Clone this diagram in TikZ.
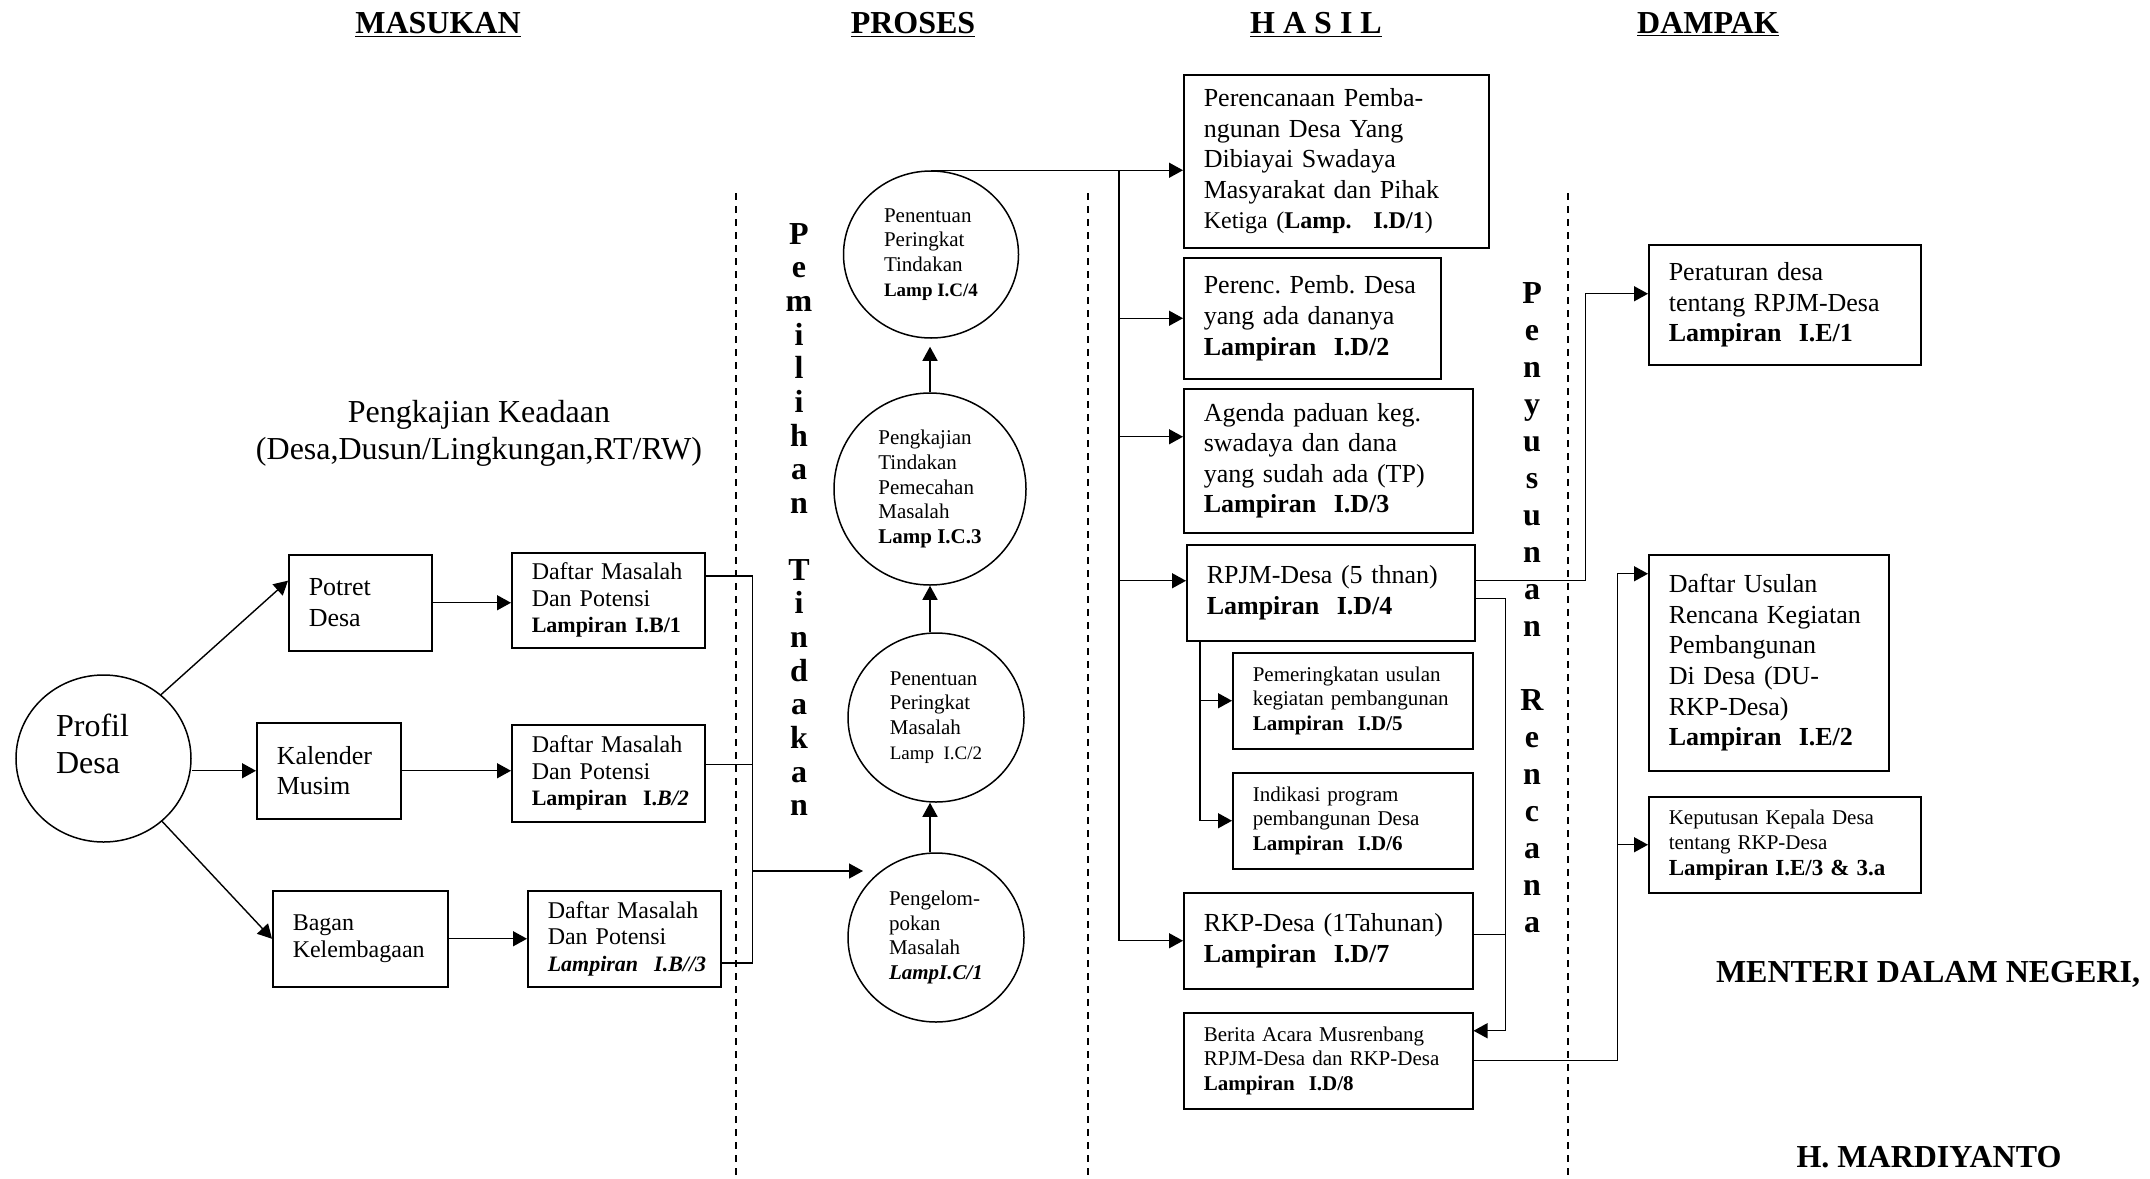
\documentclass[tikz,border=0pt]{standalone}
\usepackage{fontspec}
\setmainfont{Liberation Serif}
\usetikzlibrary{arrows.meta}
\usetikzlibrary{shapes.geometric}
\hyphenpenalty=10000
\exhyphenpenalty=10000

\begin{document}
\begin{tikzpicture}[x=0.5pt,y=-0.5pt]
   \tikzset{kotak/.style={draw, line width=0.75pt, anchor=north west, align=left, inner xsep=10pt, inner ysep=1pt}}
   \tikzset{bulat/.style={draw, ellipse, line width=0.75pt, align=left, inner sep=0pt}}
   \tikzset{panah/.style={-{Triangle[length=7pt,width=7.5pt]}, line width=0.7pt}}
   \tikzset{garis/.style={line width=0.7pt}}
   \tikzset{putus/.style={dash pattern=on 3.5pt off 3pt, line width=0.7pt}}
   \tikzset{judul/.style={font=\fontsize{16}{18}\selectfont\bfseries, anchor=base}}
   \tikzset{huruf/.style={font=\fontsize{16}{18}\selectfont\bfseries, anchor=base, inner sep=0pt}}
   \tikzset{teksbesar/.style={font=\fontsize{13}{15.3}\selectfont}}
   \tikzset{tekssedang/.style={font=\fontsize{12}{13.3}\selectfont}}
   \tikzset{tekskecil/.style={font=\fontsize{10.5}{12.4}\selectfont}}
   \useasboundingbox (0,0) rectangle (2150,1178);

   % judul kolom
   \node[judul] (masukan) at (438,33) {\underline{MASUKAN}};
   \node[judul] (proses) at (913,33) {\underline{PROSES}};
   \node[judul] (hasil) at (1316,33) {\underline{H A S I L}};
   \node[judul] (dampak) at (1708,33) {\underline{DAMPAK}};

   \foreach \x in {736,1088,1568}
      \draw[putus] (\x,193) -- (\x,1178);

   % masukan
   \node[font=\fontsize{16}{18.5}\selectfont, align=center] (keadaan) at (479,433)
      {Pengkajian Keadaan\\(Desa,Dusun/Lingkungan,RT/RW)};
   \node[bulat, minimum width=87.5pt, minimum height=83.5pt, font=\fontsize{16}{18.5}\selectfont, text depth=15pt]
      (profil) at (103.5,758.5) {Profil\hspace*{11pt}\\Desa};
   \node[kotak, teksbesar, minimum width=71.5pt, text width=51.5pt, minimum height=48pt] (potret) at (288,554) {Potret\\Desa};
   \node[kotak, teksbesar, minimum width=72pt, text width=52pt, minimum height=48pt] (kalender) at (256,722) {Kalender\\Musim};
   \node[kotak, tekssedang, minimum width=87.5pt, text width=67.5pt, minimum height=48pt] (bagan) at (272,890) {Bagan\\Kelembagaan};
   \node[kotak, tekssedang, minimum width=96.5pt, text width=76.5pt, minimum height=47.5pt] (daftarA) at (511,552)
      {Daftar~Masalah\\Dan Potensi\\{\fontsize{11}{13}\selectfont\bfseries Lampiran I.B/1}};
   \node[kotak, tekssedang, minimum width=96.5pt, text width=76.5pt, minimum height=48.5pt] (daftarB) at (511,724)
      {Daftar~Masalah\\Dan Potensi\\{\fontsize{11}{13}\selectfont\bfseries Lampiran~ I.\textit{B/2}}};
   \node[kotak, tekssedang, minimum width=96.5pt, text width=76.5pt, minimum height=48pt] (daftarC) at (527,890)
      {Daftar~Masalah\\Dan Potensi\\{\fontsize{11}{13}\selectfont\bfseries\itshape Lampiran~ I.B//3}};

   \draw[panah] (profil.48) -- (potret.163);
   \draw[panah] (kalender.west -| profil.east) -- (kalender.west);
   \draw[panah] (profil.-47) -- (bagan.west);
   \draw[panah] (potret.east) -- (potret.east -| daftarA.west);
   \draw[panah] (kalender.east) -- (kalender.east -| daftarB.west);
   \draw[panah] (bagan.east) -- (bagan.east -| daftarC.west);

   \draw[garis] (daftarA.14) -- ++(47,0) coordinate (busA) |- (daftarC.-14);
   \draw[garis] (daftarB.5) -- (daftarB.5 -| busA);
   \coordinate (ujungA) at (863,871);
   \draw[panah] (busA |- ujungA) -- (ujungA);

   % proses
   \foreach \h [count=\i from 0] in {P,e,m,i,l,i,h,a,n}
      \node[huruf] (pem\i) at (799,244+33.7*\i) {\h};
   \foreach \h [count=\i from 0] in {T,i,n,d,a,k,a,n}
      \node[huruf] (tin\i) at (799,580+33.7*\i) {\h};

   \node[bulat, tekskecil, minimum width=87.5pt, minimum height=83.5pt] (c4) at (931,254.5)
      {Penentuan\\Peringkat\\Tindakan\\{\fontsize{9.5}{11}\selectfont\bfseries Lamp I.C/4}};
   \node[bulat, tekskecil, minimum width=96pt, minimum height=96pt] (c3) at (930,489)
      {Pengkajian\\Tindakan\\Pemecahan\\Masalah\\{\bfseries Lamp I.C.3}};
   \node[bulat, tekskecil, minimum width=88pt, minimum height=84.5pt] (c2) at (936,717.5)
      {Penentuan\\Peringkat\\Masalah\\{\fontsize{9.5}{11}\selectfont Lamp~ I.C/2}};
   \node[bulat, tekskecil, minimum width=88pt, minimum height=84.5pt] (c1) at (936,937.5)
      {Pengelom-\\pokan\\Masalah\\{\bfseries\itshape LampI.C/1}};

   \draw[panah] (c1.north -| c3.south) -- (c2.south -| c3.south);
   \draw[panah] (c2.north -| c3.south) -- (c3.south);
   \draw[panah, shorten >=4pt] (c3.north) -- (c4.south -| c3.north);

   % hasil
   \node[kotak, teksbesar, minimum width=152.5pt, text width=132.5pt, minimum height=86.5pt] (h1) at (1183,74)
      {Perencanaan Pemba-\\ngunan Desa Yang\\Dibiayai Swadaya\\Masyarakat dan Pihak\\{\fontsize{12}{14}\selectfont Ketiga (\textbf{Lamp.~ I.D/1})}};
   \node[kotak, teksbesar, minimum width=128.5pt, text width=108.5pt, minimum height=60.5pt] (h2) at (1183,257)
      {Perenc.~Pemb.~Desa\\yang ada dananya\\\textbf{Lampiran~ I.D/2}};
   \node[kotak, teksbesar, minimum width=144.5pt, text width=124.5pt, minimum height=72pt] (h3) at (1183,388)
      {Agenda paduan keg.\\swadaya dan dana\\yang sudah ada (TP)\\\textbf{Lampiran~ I.D/3}};
   \node[kotak, teksbesar, minimum width=144pt, text width=124pt, minimum height=48pt] (h4) at (1186,544)
      {RPJM-Desa~(5~thnan)\\\textbf{Lampiran~ I.D/4}};
   \node[kotak, tekskecil, minimum width=120pt, text width=100pt, minimum height=48pt] (h5) at (1232,652)
      {Pemeringkatan usulan\\kegiatan~pembangunan\\\textbf{Lampiran~ I.D/5}};
   \node[kotak, tekskecil, minimum width=120pt, text width=100pt, minimum height=48pt] (h6) at (1232,772)
      {Indikasi program\\pembangunan Desa\\\textbf{Lampiran~ I.D/6}};
   \node[kotak, teksbesar, minimum width=144.5pt, text width=124.5pt, minimum height=48pt] (h7) at (1183,892)
      {RKP-Desa~(1Tahunan)\\\textbf{Lampiran~ I.D/7}};
   \node[kotak, tekskecil, minimum width=144.5pt, text width=124.5pt, minimum height=48pt] (h8) at (1183,1012)
      {Berita Acara Musrenbang\\RPJM-Desa dan RKP-Desa\\\textbf{Lampiran~ I.D/8}};

   \draw[panah] (c4.north) -- (c4.north -| h1.west);
   \coordinate (busH) at (1119,171);
   \draw[garis] (busH) -- (busH |- h7.west);
   \draw[panah] (h2.west -| busH) -- (h2.west);
   \draw[panah] ([yshift=12pt]h3.west -| busH) -- ([yshift=12pt]h3.west);
   \draw[panah] ([yshift=6pt]h4.west -| busH) -- ([yshift=6pt]h4.west);
   \draw[panah] (h7.west -| busH) -- (h7.west);
   \draw[panah] ([xshift=7pt]h4.south west) |- (h5.west);
   \draw[panah] ([xshift=7pt]h4.south west) |- (h6.west);

   % penyusunan rencana
   \foreach \h [count=\i from 0] in {P,e,n,y,u,s,u,n,a,n}
      \node[huruf] (pen\i) at (1532,303+37*\i) {\h};
   \foreach \h [count=\i from 0] in {R,e,n,c,a,n,a}
      \node[huruf] (ren\i) at (1532,710+37*\i) {\h};

   % dampak
   \node[kotak, teksbesar, minimum width=136pt, text width=116pt, minimum height=60pt] (d1) at (1648,244)
      {Peraturan desa\\tentang RPJM-Desa\\\textbf{Lampiran~ I.E/1}};
   \node[kotak, teksbesar, minimum width=120pt, text width=100pt, minimum height=108pt] (d2) at (1648,554)
      {Daftar Usulan\\Rencana~Kegiatan\\Pembangunan\\Di Desa (DU-\\RKP-Desa)\\\textbf{Lampiran~ I.E/2}};
   \node[kotak, font=\fontsize{10.5}{12.8}\selectfont, minimum width=136pt, text width=116pt, minimum height=48pt] (d3) at (1648,796)
      {Keputusan Kepala Desa\\tentang RKP-Desa\\{\fontsize{11.5}{12.8}\selectfont\bfseries Lampiran~I.E/3~\&~3.a}};

   \draw[panah] ([yshift=6pt]h4.east) -- ++(110,0) |- ([yshift=5.5pt]d1.west);
   \draw[panah] ([yshift=-3pt]h4.east) -- ++(30,0) coordinate (busR) |- ([yshift=15pt]h8.east);
   \draw[garis] ([yshift=3pt]h7.east) -- ([yshift=3pt]h7.east -| busR);
   \draw[garis] (h8.east) -- ++(144,0) coordinate (busD);
   \draw[panah] (busD) |- ([yshift=44.5pt]d2.west);
   \draw[panah] (busD) |- (d3.west);

   % tanda tangan
   \node[judul] (menteri) at (1928,982) {MENTERI DALAM NEGERI,};
   \node[judul] (nama) at (1929,1167) {H. MARDIYANTO};
\end{tikzpicture}
\end{document}
